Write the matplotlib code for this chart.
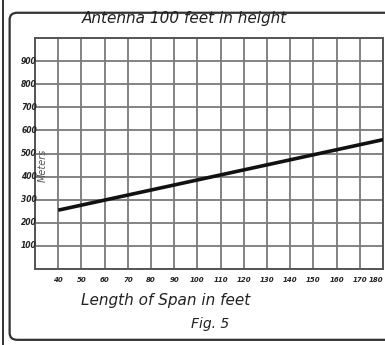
import matplotlib.pyplot as plt
from matplotlib.patches import FancyBboxPatch, Rectangle

# Data:

span_ft = [40, 180]
wavelength_m = [255, 560]

x_ticks = list(range(40, 190, 10))
y_ticks = list(range(100, 1000, 100))

# Plotting:

fig = plt.figure(figsize=(3.85, 3.45), dpi=100)
ax = fig.add_axes([0.091, 0.22, 0.904, 0.67])

ax.plot(span_ft, wavelength_m, c='#111111', lw=2.6, solid_capstyle='butt', zorder=3)

ax.set_xlim(30, 180)
ax.set_ylim(0, 1000)
ax.set_xticks(range(30, 181, 10))
ax.set_yticks(range(0, 1001, 100))
ax.grid(True, color='#7a7a7a', lw=1.3)
ax.tick_params(length=0, labelbottom=False, labelleft=False)
for s in ax.spines.values():
    s.set_color('#555555')
    s.set_linewidth(1.4)

for x in x_ticks:
    # last label pushed left so it stays inside the picture
    ax.text(x if x < 180 else 180, -45, str(x), ha='center' if x < 180 else 'right',
            va='center', fontsize=5, style='italic', weight='bold',
            color='#222222', clip_on=False)
for y in y_ticks:
    ax.text(30.8, y, str(y), ha='right', va='center', fontsize=5.5,
            style='italic', weight='bold', color='#222222', clip_on=False)

ax.text(33.5, 450, 'Meters', rotation=90, ha='center', va='center', fontsize=7,
        style='italic', color='#555555')

fig.text(0.48, 0.945, 'Antenna 100 feet in height', ha='center', va='center',
         fontsize=11, style='italic', color='#222222')
fig.text(0.43, 0.13, 'Length of Span in feet', ha='center', va='center',
         fontsize=11, style='italic', color='#222222')
fig.text(0.545, 0.06, 'Fig. 5', ha='center', va='center',
         fontsize=10, style='italic', color='#222222')

# frame around the figure
fig.patches.append(FancyBboxPatch((0.025, 0.015), 1.02, 0.948,
                                  boxstyle='round,pad=0,rounding_size=0.02',
                                  transform=fig.transFigure, fill=False,
                                  ec='#333333', lw=1.6))
fig.patches.append(Rectangle((0.008, 0.0), 0.0, 1.0, transform=fig.transFigure,
                             fill=False, ec='#333333', lw=1.4))

plt.savefig('out.png', dpi=100)
